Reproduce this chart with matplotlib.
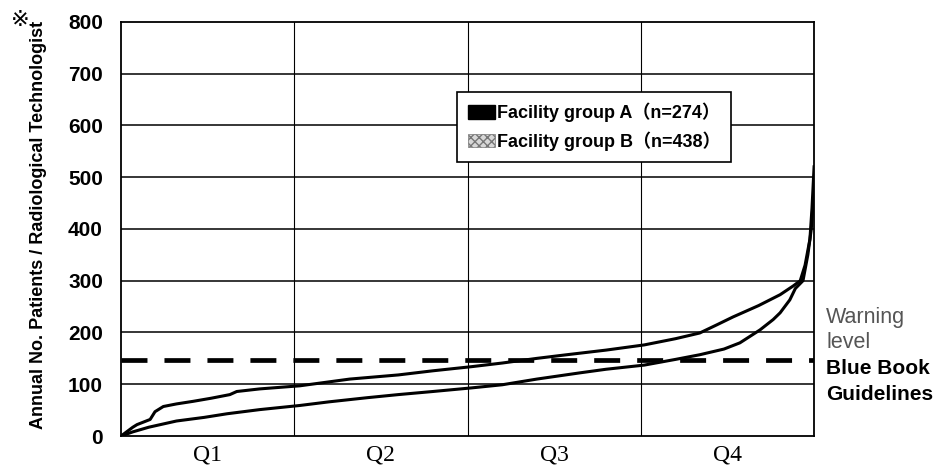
#!/usr/bin/env python3
"""
Annual patients per radiological technologist, facilities sorted by load.
"""

import matplotlib
matplotlib.use("Agg")
import matplotlib.pyplot as plt
from matplotlib.patches import Patch

# sorted facility position (0..1) and annual patients / technologist
group_a_pos = [0, .017, .023, .042, .049, .061, .08, .104, .13, .157, .167, .2, .258,
               .33, .4, .45, .506, .55, .6, .643, .7, .755, .8, .835, .86, .883, .92,
               .951, .97, .98, .987, .994, .997, 1.0]
group_a_val = [0, 17, 22, 32, 47, 57, 62, 67, 73, 80, 86, 91, 97,
               110, 118, 126, 134, 141, 150, 157, 166, 176, 188, 199, 215, 230, 252,
               273, 290, 300, 330, 380, 440, 520]

group_b_pos = [0, .017, .04, .08, .12, .153, .2, .258, .3, .355, .4, .45, .506, .55,
               .6, .662, .7, .755, .8, .835, .87, .893, .922, .941, .951, .965, .973,
               .984, .991, .996, 1.0]
group_b_val = [0, 8, 17, 29, 36, 43, 51, 59, 66, 74, 80, 86, 93, 99,
               110, 122, 129, 137, 148, 157, 168, 180, 205, 225, 238, 263, 285,
               300, 350, 400, 480]

quarters = ["Q1", "Q2", "Q3", "Q4"]
quarter_edges = [0.25, 0.5, 0.75]
y_ticks = [0, 100, 200, 300, 400, 500, 600, 700, 800]
blue_book = 146
legend_labels = ["Facility group A\uff08n=274\uff09", "Facility group B\uff08n=438\uff09"]

sans = ["Liberation Sans", "Noto Sans CJK JP", "DejaVu Sans"]

fig = plt.figure(figsize=(9.34, 4.76), dpi=100)
ax = fig.add_axes([0.1296, 0.084, 0.742, 0.870])

# grid
for v in y_ticks[1:-1]:
    ax.axhline(v, color="black", lw=1.1, zorder=1)
for q in quarter_edges:
    ax.axvline(q, color="black", lw=0.8, zorder=1)

# guideline
dash, = ax.plot([0, 1], [blue_book, blue_book], color="black", lw=3.4, zorder=2)
dash.set_dashes([5.5, 3.6])

ax.plot(group_a_pos, group_a_val, color="black", lw=2.2, zorder=3)
ax.plot(group_b_pos, group_b_val, color="black", lw=2.2, zorder=3)

ax.set_xlim(0, 1)
ax.set_ylim(0, 800)
ax.set_yticks(y_ticks)
ax.set_yticklabels([str(t) for t in y_ticks], fontsize=15, fontweight="bold",
                   family="Liberation Sans")
ax.set_xticks([0.125, 0.375, 0.625, 0.875])
ax.set_xticklabels(quarters, fontsize=17, family="Liberation Serif")
ax.tick_params(axis="y", length=0, pad=13)
ax.tick_params(axis="x", length=0, pad=6)
for s in ax.spines.values():
    s.set_linewidth(1.3)
    s.set_color("black")

fig.text(39 / 934, 1 - 225 / 476, "Annual No. Patients / Radiological Technologist",
         rotation=90, ha="center", va="center", fontsize=13, fontweight="bold",
         family="Liberation Sans")
fig.text(20 / 934, 1 - 20 / 476, "\u203b", ha="center", va="center", fontsize=16,
         family=["DejaVu Sans", "Noto Sans CJK JP"])

# right-hand notes
fig.text(826 / 934, 1 - 317 / 476, "Warning", ha="left", va="center", fontsize=15.5,
         color="#555555", family="Liberation Sans")
fig.text(826 / 934, 1 - 342 / 476, "level", ha="left", va="center", fontsize=15.5,
         color="#555555", family="Liberation Sans")
fig.text(826 / 934, 1 - 369 / 476, "Blue Book", ha="left", va="center", fontsize=15,
         fontweight="bold", family="Liberation Sans")
fig.text(826 / 934, 1 - 394 / 476, "Guidelines", ha="left", va="center", fontsize=15,
         fontweight="bold", family="Liberation Sans")

handles = [Patch(facecolor="black", edgecolor="black"),
           Patch(facecolor="#d8d8d8", edgecolor="#777777", hatch="xxxx", lw=0.5)]
leg = fig.legend(handles, legend_labels, loc="upper left",
                 bbox_to_anchor=(457 / 934, 1 - 92 / 476), bbox_transform=fig.transFigure,
                 borderaxespad=0, fancybox=False, framealpha=1, edgecolor="black",
                 handlelength=1.5, handleheight=0.75, handletextpad=0.1,
                 labelspacing=0.5, borderpad=0.6,
                 prop={"family": sans, "weight": "bold", "size": 13})
leg.get_frame().set_linewidth(1.2)

fig.savefig("out.png", dpi=100)
